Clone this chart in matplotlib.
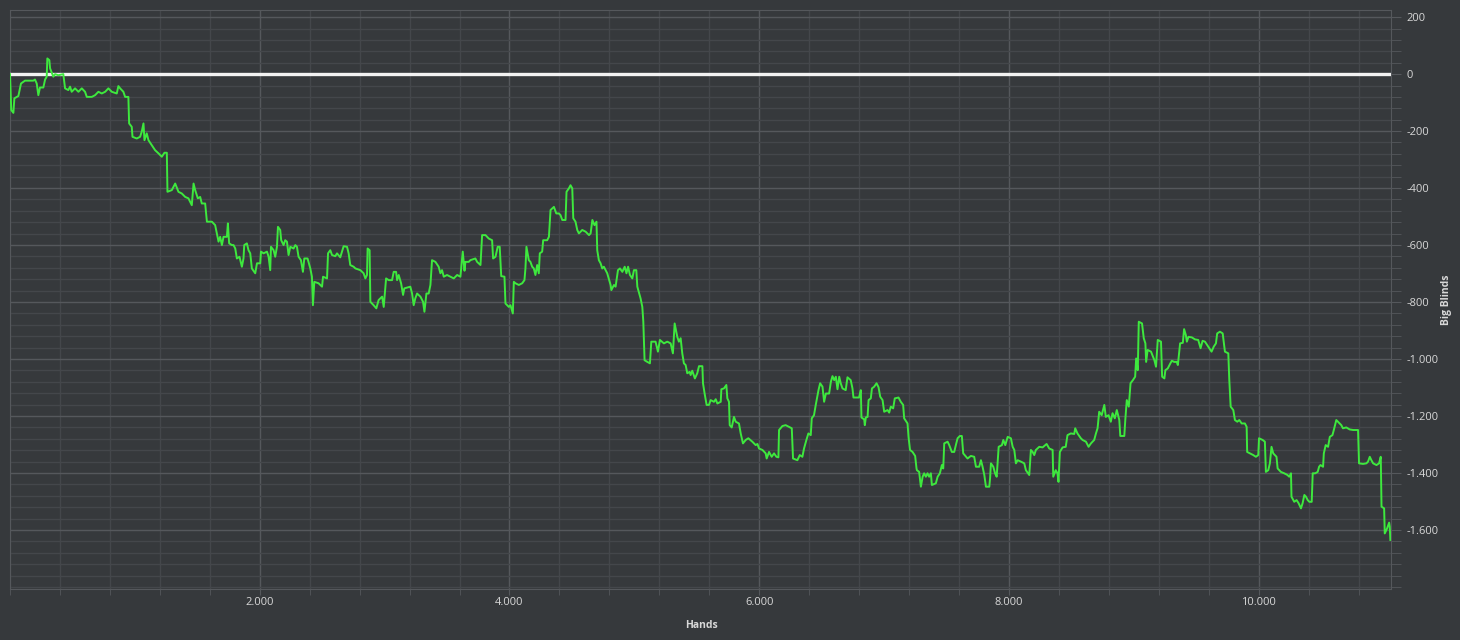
import matplotlib
matplotlib.use("Agg")
import matplotlib.pyplot as plt
from matplotlib.ticker import FuncFormatter, MultipleLocator, FixedLocator

# Donnees : mains jouees / gains en big blinds
hands = [
    0, 10, 27, 35, 67, 88, 120, 187, 200, 214, 227, 240, 267, 281, 294, 299,
    315, 321, 347, 361, 387, 427, 441, 467, 481, 494, 521, 548, 575, 601, 615,
    655, 681, 708, 735, 762, 788, 815, 855, 868, 882, 908, 922, 948, 954, 975,
    981, 1015, 1042, 1055, 1069, 1077, 1095, 1109, 1135, 1162, 1189, 1216,
    1237, 1256, 1261, 1296, 1323, 1349, 1376, 1403, 1429, 1456, 1470, 1483,
    1504, 1523, 1536, 1563, 1577, 1617, 1643, 1670, 1683, 1697, 1710, 1737,
    1745, 1755, 1777, 1790, 1804, 1817, 1838, 1857, 1870, 1876, 1897, 1910,
    1924, 1937, 1964, 1978, 2004, 2010, 2031, 2058, 2071, 2084, 2090, 2111,
    2124, 2138, 2146, 2164, 2172, 2191, 2204, 2218, 2231, 2245, 2271, 2285,
    2298, 2311, 2330, 2346, 2357, 2383, 2405, 2418, 2426, 2437, 2471, 2499,
    2507, 2539, 2547, 2565, 2579, 2605, 2619, 2645, 2672, 2699, 2712, 2725,
    2752, 2766, 2806, 2832, 2846, 2859, 2864, 2880, 2886, 2912, 2934, 2952,
    2980, 2993, 3012, 3033, 3060, 3073, 3092, 3100, 3113, 3132, 3148, 3158,
    3206, 3220, 3233, 3246, 3260, 3287, 3308, 3319, 3335, 3353, 3367, 3380,
    3407, 3433, 3447, 3460, 3474, 3500, 3527, 3554, 3581, 3607, 3626, 3640,
    3647, 3674, 3687, 3727, 3741, 3768, 3781, 3808, 3834, 3861, 3869, 3888,
    3906, 3922, 3934, 3960, 3968, 3995, 4008, 4027, 4035, 4048, 4075, 4102,
    4120, 4128, 4136, 4155, 4168, 4182, 4195, 4208, 4222, 4235, 4243, 4262,
    4270, 4302, 4316, 4329, 4356, 4375, 4396, 4409, 4423, 4449, 4457, 4476,
    4489, 4503, 4511, 4529, 4543, 4556, 4583, 4610, 4637, 4650, 4664, 4681,
    4697, 4703, 4716, 4730, 4743, 4756, 4783, 4810, 4816, 4837, 4850, 4869,
    4885, 4904, 4923, 4937, 4950, 4965, 4984, 4997, 5016, 5024, 5050, 5064,
    5072, 5082, 5104, 5125, 5136, 5170, 5189, 5205, 5237, 5264, 5291, 5309,
    5323, 5344, 5357, 5371, 5384, 5397, 5411, 5424, 5443, 5451, 5464, 5485,
    5504, 5518, 5545, 5550, 5563, 5579, 5598, 5611, 5638, 5652, 5665, 5692,
    5697, 5718, 5737, 5745, 5758, 5764, 5780, 5798, 5812, 5838, 5852, 5870,
    5892, 5913, 5945, 5972, 5986, 5999, 6026, 6052, 6060, 6079, 6100, 6119,
    6138, 6154, 6159, 6186, 6212, 6239, 6261, 6271, 6306, 6325, 6346, 6359,
    6378, 6394, 6413, 6421, 6439, 6453, 6475, 6488, 6507, 6520, 6534, 6560,
    6574, 6587, 6601, 6614, 6627, 6641, 6653, 6667, 6693, 6707, 6733, 6747,
    6755, 6800, 6814, 6819, 6841, 6846, 6854, 6868, 6876, 6894, 6903, 6921,
    6940, 6956, 6969, 6988, 7001, 7028, 7041, 7054, 7073, 7086, 7116, 7134,
    7153, 7161, 7188, 7196, 7208, 7228, 7249, 7260, 7263, 7281, 7295, 7309,
    7321, 7335, 7348, 7361, 7375, 7383, 7415, 7429, 7447, 7463, 7474, 7482,
    7509, 7522, 7543, 7562, 7575, 7589, 7607, 7623, 7634, 7669, 7695, 7722,
    7736, 7762, 7776, 7789, 7803, 7816, 7843, 7849, 7856, 7875, 7889, 7902,
    7918, 7944, 7955, 7971, 7990, 8016, 8030, 8043, 8056, 8070, 8096, 8123,
    8136, 8163, 8176, 8190, 8203, 8216, 8243, 8270, 8302, 8323, 8350, 8355,
    8375, 8389, 8397, 8408, 8430, 8455, 8469, 8496, 8523, 8531, 8549, 8576,
    8590, 8617, 8638, 8657, 8683, 8697, 8710, 8723, 8743, 8764, 8776, 8798,
    8816, 8830, 8848, 8864, 8884, 8892, 8924, 8932, 8944, 8960, 8974, 8993,
    9011, 9019, 9032, 9040, 9066, 9080, 9093, 9099, 9111, 9138, 9165, 9178,
    9192, 9218, 9227, 9245, 9253, 9272, 9293, 9305, 9323, 9344, 9353, 9363,
    9371, 9393, 9403, 9417, 9425, 9438, 9465, 9490, 9516, 9535, 9551, 9570,
    9588, 9604, 9623, 9641, 9658, 9668, 9690, 9712, 9730, 9757, 9765, 9776,
    9797, 9810, 9829, 9845, 9864, 9890, 9904, 9908, 9930, 9957, 9978, 9997,
    10003, 10032, 10050, 10058, 10077, 10090, 10103, 10117, 10130, 10143,
    10152, 10178, 10205, 10231, 10245, 10259, 10263, 10285, 10304, 10320,
    10339, 10352, 10366, 10379, 10393, 10406, 10425, 10433, 10453, 10473,
    10484, 10495, 10516, 10522, 10537, 10556, 10570, 10591, 10602, 10622,
    10648, 10662, 10675, 10702, 10729, 10757, 10796, 10804, 10836, 10863,
    10876, 10890, 10903, 10917, 10944, 10964, 10978, 10984, 11005, 11010,
    11029, 11045, 11050, 11055,
]
big_blinds = [
    0, -126, -136, -85, -77, -33, -23, -23, -19, -33, -74, -47, -47, -19, -9, 55,
    49, 20, -9, 0, -4, 0, -50, -56, -44, -62, -50, -62, -50, -62, -80,
    -80, -74, -62, -68, -62, -50, -62, -68, -42, -50, -62, -80, -80, -173, -185,
    -220, -226, -220, -202, -173, -232, -208, -232, -249, -267, -278, -290,
    -276, -276, -413, -407, -384, -413, -419, -431, -436, -460, -384, -407,
    -436, -431, -454, -454, -518, -518, -530, -588, -571, -600, -571, -571,
    -524, -594, -600, -600, -612, -647, -641, -676, -647, -600, -594, -618,
    -629, -682, -699, -664, -664, -623, -629, -623, -641, -688, -606, -618,
    -641, -606, -536, -547, -583, -600, -583, -588, -635, -606, -612, -600,
    -606, -641, -653, -694, -647, -647, -682, -711, -811, -729, -734, -746,
    -711, -717, -629, -618, -635, -639, -629, -643, -604, -606, -629, -670,
    -676, -682, -688, -699, -717, -705, -612, -618, -799, -811, -822, -793,
    -781, -817, -717, -723, -723, -694, -694, -723, -705, -734, -775, -752,
    -746, -770, -811, -787, -770, -781, -799, -834, -770, -770, -740, -653,
    -659, -676, -699, -688, -711, -705, -711, -717, -705, -711, -623, -690,
    -659, -659, -653, -647, -659, -670, -565, -565, -577, -583, -647, -641,
    -606, -606, -709, -711, -805, -817, -811, -840, -729, -734, -740, -734,
    -723, -682, -606, -653, -659, -676, -682, -705, -670, -699, -629, -623,
    -583, -583, -571, -477, -466, -489, -489, -495, -512, -512, -413, -401,
    -390, -401, -506, -518, -547, -559, -547, -553, -565, -559, -512, -530,
    -518, -618, -653, -664, -682, -676, -699, -740, -758, -740, -746, -688,
    -682, -694, -676, -699, -676, -705, -717, -688, -688, -746, -787, -817,
    -869, -1004, -1010, -1015, -939, -939, -974, -933, -945, -939, -945, -980,
    -875, -922, -939, -927, -980, -1015, -1021, -1050, -1045, -1056, -1041, -1068,
    -1050, -1025, -1025, -1085, -1121, -1161, -1161, -1144, -1150, -1141, -1156, -1150,
    -1106, -1103, -1091, -1138, -1150, -1232, -1240, -1203, -1220, -1226, -1261, -1296,
    -1284, -1278, -1290, -1302, -1298, -1314, -1319, -1331, -1349, -1326, -1343, -1331,
    -1343, -1345, -1249, -1235, -1232, -1238, -1243, -1349, -1355, -1337, -1343, -1314,
    -1284, -1261, -1267, -1208, -1197, -1161, -1109, -1085, -1097, -1150, -1121, -1121,
    -1080, -1060, -1074, -1062, -1106, -1062, -1085, -1103, -1109, -1064, -1074, -1103,
    -1135, -1135, -1109, -1205, -1212, -1232, -1205, -1203, -1144, -1138, -1103, -1097,
    -1085, -1099, -1132, -1144, -1185, -1179, -1188, -1167, -1173, -1138, -1135, -1150,
    -1161, -1208, -1226, -1273, -1319, -1326, -1340, -1384, -1390, -1396, -1448, -1413,
    -1401, -1413, -1401, -1413, -1401, -1442, -1436, -1413, -1401, -1372, -1384, -1296,
    -1290, -1302, -1326, -1326, -1302, -1278, -1270, -1270, -1331, -1349, -1340, -1343,
    -1378, -1378, -1355, -1378, -1407, -1448, -1448, -1419, -1366, -1378, -1401, -1413,
    -1308, -1302, -1284, -1302, -1273, -1278, -1308, -1319, -1366, -1355, -1360, -1366,
    -1390, -1407, -1319, -1326, -1337, -1319, -1308, -1310, -1298, -1314, -1319, -1413,
    -1390, -1401, -1431, -1326, -1310, -1308, -1267, -1261, -1263, -1243, -1261, -1278,
    -1284, -1290, -1308, -1296, -1284, -1261, -1243, -1185, -1197, -1161, -1203, -1197,
    -1220, -1190, -1208, -1179, -1214, -1270, -1270, -1214, -1144, -1167, -1085, -1074,
    -1062, -998, -1039, -869, -875, -927, -945, -1010, -968, -974, -1004, -1027,
    -933, -939, -1062, -1068, -1039, -1033, -1015, -1006, -1010, -1010, -1021, -980,
    -945, -943, -895, -916, -939, -922, -924, -931, -933, -962, -936, -939,
    -951, -962, -974, -956, -945, -910, -904, -910, -974, -980, -1074, -1167,
    -1179, -1214, -1220, -1214, -1226, -1226, -1238, -1326, -1331, -1337, -1343, -1337,
    -1278, -1284, -1290, -1396, -1390, -1366, -1308, -1331, -1337, -1343,
    -1384, -1396, -1401, -1407, -1413, -1401, -1483, -1501, -1495, -1506,
    -1524, -1506, -1477, -1483, -1495, -1501, -1501, -1401, -1401, -1396,
    -1378, -1372, -1378, -1331, -1302, -1308, -1273, -1267, -1249, -1214,
    -1226, -1232, -1243, -1240, -1247, -1249, -1249, -1366, -1368, -1366,
    -1360, -1343, -1355, -1366, -1372, -1366, -1343, -1518, -1524, -1612,
    -1594, -1574, -1588, -1635,
]

# graduations affichees
x_ticks = [2000, 4000, 6000, 8000, 10000]
y_ticks = [200, 0, -200, -400, -600, -800, -1000, -1200, -1400, -1600]

FOND = "#36393c"
GRILLE_MAJ = "#55585c"
GRILLE_MIN = "#44474b"
TEXTE = "#d8d8d8"

fig = plt.figure(figsize=(14.6, 6.4), dpi=100, facecolor=FOND)
ax = fig.add_axes([10 / 1460, 51 / 640, 1381 / 1460, 579 / 640])
ax.set_facecolor(FOND)

ax.set_xlim(0, 11060)
ax.set_ylim(-1807, 225)


def milliers(v, pos):
    return f"{v:,.0f}".replace(",", ".")


ax.xaxis.set_major_locator(FixedLocator(x_ticks))
ax.xaxis.set_minor_locator(MultipleLocator(400))
ax.yaxis.set_major_locator(FixedLocator(y_ticks))
ax.yaxis.set_minor_locator(MultipleLocator(40))
ax.xaxis.set_major_formatter(FuncFormatter(milliers))
ax.yaxis.set_major_formatter(FuncFormatter(milliers))

ax.grid(which="major", color=GRILLE_MAJ, linewidth=1)
ax.grid(which="minor", color=GRILLE_MIN, linewidth=1)
ax.set_axisbelow(True)

ax.yaxis.tick_right()
ax.tick_params(axis="both", which="both", colors=GRILLE_MAJ, labelcolor=TEXTE,
               labelsize=8)
ax.tick_params(axis="y", which="both", length=7, pad=4)
ax.tick_params(axis="x", which="both", length=4, pad=2)
for t in ax.get_xticklabels() + ax.get_yticklabels():
    t.set_family("Open Sans")

for cote in ax.spines.values():
    cote.set_color(GRILLE_MAJ)

# ligne du zero + courbe des gains
ax.axhline(0, color="#f2f2f2", linewidth=2.4, zorder=3)
ax.plot(hands, big_blinds, color="#3ee83e", linewidth=1.4, zorder=4)

# titres des axes places a la main (comme dans l'original)
fig.text(701 / 1460, 1 - 626 / 640, "Hands", color=TEXTE, fontsize=7.5,
         fontweight="bold", family="Open Sans", ha="center", va="center")
fig.text(1447 / 1460, 1 - 300 / 640, "Big Blinds", color=TEXTE, fontsize=7.5,
         fontweight="bold", family="Open Sans", ha="center", va="center",
         rotation=90)

fig.savefig("out.png", dpi=100, facecolor=FOND)
